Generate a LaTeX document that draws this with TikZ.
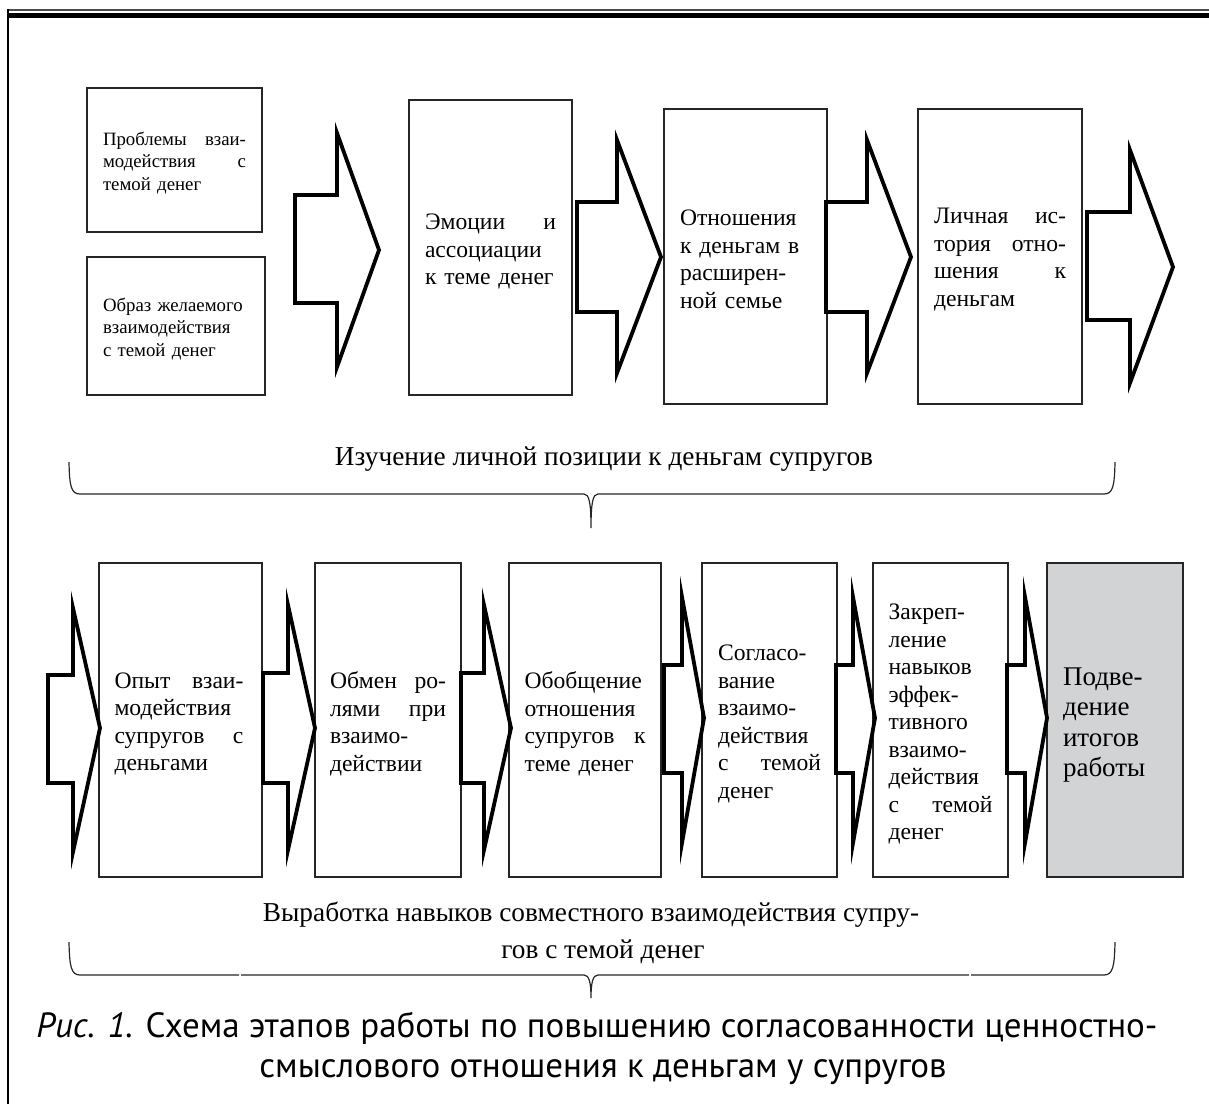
\documentclass[tikz,border=0pt]{standalone}
\usepackage{fontspec}
\setmainfont{Liberation Serif}
\newfontfamily\capfont{PT Sans}
\newcommand\jrow[3]{\leavevmode\hbox to #1pt{#2\hskip 0pt plus 1fill #3}}
\newcommand\lrow[1]{\mbox{#1}}
\newcommand\blockarr[8]{\draw[blockarrow] (#1,#2) -- (#3,#2) -- (#3,#4) -- (#5,#6) -- (#3,#7) -- (#3,#8) -- (#1,#8) -- cycle;}
\begin{document}
\begin{tikzpicture}[x=1pt,y=-1pt,
  box/.style={draw=black!85, line width=1.2pt, fill=white, inner sep=0pt},
  txt/.style={inner sep=0pt, align=left},
  fsmall/.style={font=\fontsize{18.8}{22.3}\selectfont},
  fmid/.style={font=\fontsize{23.6}{27.5}\selectfont},
  fbig/.style={font=\fontsize{27}{30.3}\selectfont},
  blockarrow/.style={draw=black, line width=3.8pt, line join=miter, miter limit=25},
  bracepath/.style={draw=black!85, line width=1.2pt},
  lbl/.style={inner sep=0pt, anchor=base, font=\fontsize{27.3}{30}\selectfont},
  caption/.style={inner sep=0pt, anchor=base, font=\capfont\fontsize{35}{40}\selectfont}]
\useasboundingbox (0,0) rectangle (1209,1104);
% page frame
\draw[line width=1.4pt, black!70] (7,10) -- (1209,10);
\draw[line width=4.4pt] (7,15.5) -- (1209,15.5);
\draw[line width=2.8pt] (8,9.3) -- (8,1104);
% top row boxes
\node[box, minimum width=175pt, minimum height=144pt] (a1) at (174.5,160) {};
\node[box, minimum width=178pt, minimum height=138pt] (a2) at (176,326) {};
\node[box, minimum width=163pt, minimum height=295pt] (b) at (490.5,247.5) {};
\node[box, minimum width=163pt, minimum height=295pt] (c) at (745.5,256.5) {};
\node[box, minimum width=164pt, minimum height=295pt] (d) at (1000,256.5) {};
\node[txt, fsmall, text width=143pt] (a1t) at ([yshift=-3pt]a1.center)
  {\jrow{143}{Проблемы}{взаи-}\\\jrow{143}{модействия}{с}\\\lrow{темой денег}};
\node[txt, fsmall, text width=146pt] (a2t) at ([yshift=-3pt]a2.center)
  {\lrow{Образ желаемого}\\\lrow{взаимодействия}\\\lrow{с темой денег}};
\node[txt, fmid, text width=131pt] (bt) at ([yshift=-4pt]b.center)
  {\jrow{131}{Эмоции}{и}\\\lrow{ассоциации}\\\lrow{к теме денег}};
\node[txt, fmid, text width=131pt] (ct) at ([yshift=-3pt]c.center)
  {\lrow{Отношения}\\\lrow{к деньгам в}\\\lrow{расширен-}\\\lrow{ной семье}};
\node[txt, fmid, text width=132pt] (dt) at ([yshift=-3pt]d.center)
  {\jrow{132}{Личная}{ис-}\\\jrow{132}{тория}{отно-}\\\jrow{132}{шения}{к}\\\lrow{деньгам}};
% top row arrows
\blockarr{295}{195}{337}{133}{379}{250}{367}{303}
\blockarr{577}{202}{617}{140}{661}{257}{373}{312}
\blockarr{826}{202}{867}{140}{911}{257}{373}{312}
\blockarr{1087}{212}{1130}{150}{1173}{267}{383}{320}
% top brace and label
\node[lbl] (t1) at (604,465) {Изучение личной позиции к деньгам супругов};
\draw[bracepath] (69,462) .. controls (69.5,486) and (71,494) .. (80,494) -- (584,494)
  .. controls (589,494) and (591,502) .. (591,528)
  .. controls (591,502) and (593,494) .. (598,494) -- (1104,494)
  .. controls (1113,494) and (1114.5,486) .. (1115,462);
% bottom row boxes
\node[box, minimum width=163pt, minimum height=314pt] (e1) at (180.5,720) {};
\node[box, minimum width=146pt, minimum height=314pt] (e2) at (388,720) {};
\node[box, minimum width=152pt, minimum height=314pt] (e3) at (585,720) {};
\node[box, minimum width=135pt, minimum height=314pt] (e4) at (769.5,720) {};
\node[box, minimum width=135pt, minimum height=314pt] (e5) at (940.5,720) {};
\node[box, fill={rgb,255:red,210;green,211;blue,213}, minimum width=136pt, minimum height=314pt] (e6) at (1115,720) {};
\node[txt, fmid, text width=129pt] (e1t) at ([yshift=-4pt,xshift=-1.5pt]e1.center)
  {\jrow{129}{Опыт}{взаи-}\\\lrow{модействия}\\\jrow{129}{супругов}{с}\\\lrow{деньгами}};
\node[txt, fmid, text width=116pt] (e2t) at ([yshift=-4pt]e2.center)
  {\jrow{116}{Обмен}{ро-}\\\jrow{116}{лями}{при}\\\lrow{взаимо-}\\\lrow{действии}};
\node[txt, fmid, text width=121pt] (e3t) at ([yshift=-4pt]e3.center)
  {\lrow{Обобщение}\\\lrow{отношения}\\\jrow{121}{супругов}{к}\\\lrow{теме денег}};
\node[txt, fmid, text width=103pt] (e4t) at ([yshift=-4pt]e4.center)
  {\lrow{Согласо-}\\\lrow{вание}\\\lrow{взаимо-}\\\lrow{действия}\\\jrow{103}{с}{темой}\\\lrow{денег}};
\node[txt, fmid, text width=104pt] (e5t) at ([yshift=-4pt]e5.center)
  {\lrow{Закреп-}\\\lrow{ление}\\\lrow{навыков}\\\lrow{эффек-}\\\lrow{тивного}\\\lrow{взаимо-}\\\lrow{действия}\\\jrow{104}{с}{темой}\\\lrow{денег}};
\node[txt, fbig, text width=104pt] (e6t) at ([yshift=-5pt]e6.center)
  {\lrow{Подве-}\\\lrow{дение}\\\lrow{итогов}\\\lrow{работы}};
% bottom row arrows
\blockarr{48}{675}{73}{608}{100}{728}{852}{783}
\blockarr{263}{673}{288}{605}{315}{728}{850}{783}
\blockarr{461}{673}{484}{605}{511}{728}{850}{783}
\blockarr{664}{665}{682}{597}{704}{718}{843}{773}
\blockarr{836}{665}{853}{597}{875}{718}{843}{773}
\blockarr{1007}{665}{1025}{597}{1047}{718}{843}{773}
% bottom label and brace
\node[lbl] (t2a) at (591,921) {Выработка навыков совместного взаимодействия супру-};
\node[lbl] (t2b) at (603,958) {гов с темой денег};
\draw[bracepath] (69,942) .. controls (69.5,966) and (71,975) .. (80,975) -- (239,975);
\draw[bracepath] (241,975) -- (584,975)
  .. controls (589,975) and (591,982) .. (591,998)
  .. controls (591,982) and (593,975) .. (598,975) -- (969,975);
\draw[bracepath] (971,975) -- (1104,975)
  .. controls (1113,975) and (1114.5,966) .. (1115,942);
% caption
\node[caption] (cap1) at (597,1037) {\textit{Рис. 1.} Схема этапов работы по повышению согласованности ценностно-};
\node[caption] (cap2) at (603,1077) {смыслового отношения к деньгам у супругов};
\end{tikzpicture}
\end{document}
